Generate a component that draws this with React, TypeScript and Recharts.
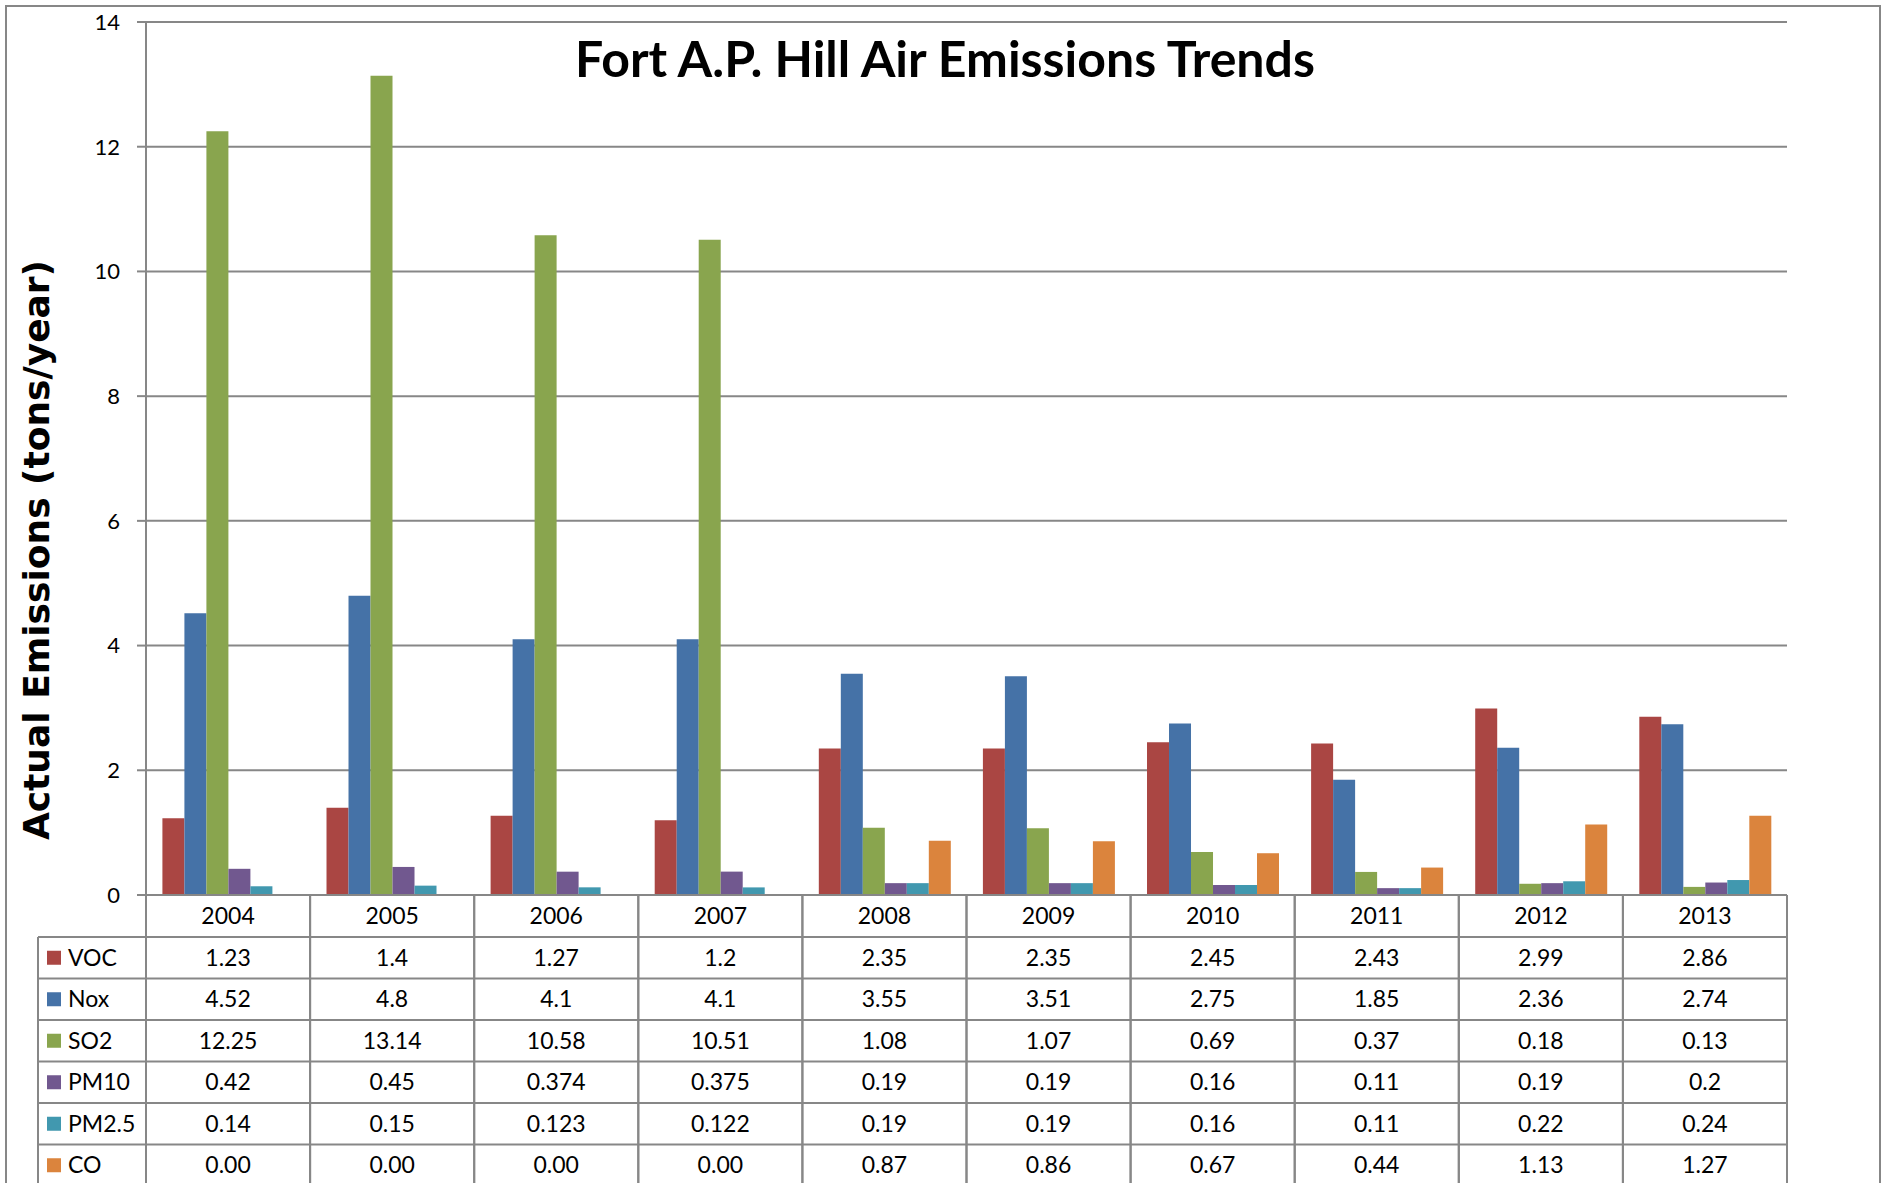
import { BarChart, Bar, XAxis, YAxis, CartesianGrid } from 'recharts';

const years = ['2004', '2005', '2006', '2007', '2008', '2009', '2010', '2011', '2012', '2013'];
const voc = [1.23, 1.4, 1.27, 1.2, 2.35, 2.35, 2.45, 2.43, 2.99, 2.86];
const nox = [4.52, 4.8, 4.1, 4.1, 3.55, 3.51, 2.75, 1.85, 2.36, 2.74];
const so2 = [12.25, 13.14, 10.58, 10.51, 1.08, 1.07, 0.69, 0.37, 0.18, 0.13];
const pm10 = [0.42, 0.45, 0.374, 0.375, 0.19, 0.19, 0.16, 0.11, 0.19, 0.2];
const pm25 = [0.14, 0.15, 0.123, 0.122, 0.19, 0.19, 0.16, 0.11, 0.22, 0.24];
const co = [0, 0, 0, 0, 0.87, 0.86, 0.67, 0.44, 1.13, 1.27];
const yTicks = [0, 2, 4, 6, 8, 10, 12, 14];

const series = [
  { key: 'voc', name: 'VOC', values: voc },
  { key: 'nox', name: 'Nox', values: nox },
  { key: 'so2', name: 'SO2', values: so2 },
  { key: 'pm10', name: 'PM10', values: pm10 },
  { key: 'pm25', name: 'PM2.5', values: pm25 },
  { key: 'co', name: 'CO', values: co, fixed: true },
];

const colors: Record<string, string> = {
  voc: '#AA4643',
  nox: '#4572A7',
  so2: '#89A54E',
  pm10: '#71588F',
  pm25: '#4198AF',
  co: '#DB843D',
};

const data = years.map((year, i) => {
  const row: Record<string, string | number> = { year };
  series.forEach(s => { row[s.key] = s.values[i]; });
  return row;
});

// layout
const W = 1885;
const H = 1200;
const Y_AXIS_W = 146;
const RIGHT = 98;
const TOP = 22;
const X_AXIS_H = 305;
const PLOT_BOTTOM = H - X_AXIS_H;
const BAND = (W - Y_AXIS_W - RIGHT) / years.length;
const YEAR_ROW_H = 42;
const ROW_H = 41.5;
const LEGEND_LEFT = 38;
const LINE = '#878787';
const FONT = 'Lato, "Open Sans", sans-serif';

const rowTop = (r: number) => PLOT_BOTTOM + YEAR_ROW_H + r * ROW_H;

function TableColumn(props: any) {
  const { x, payload } = props;
  const i = years.indexOf(payload.value);
  const left = x - BAND / 2;
  const right = x + BAND / 2;
  return (
    <g>
      <line x1={left} x2={left} y1={PLOT_BOTTOM} y2={H} stroke={LINE} strokeWidth={2} />
      <line x1={right} x2={right} y1={PLOT_BOTTOM} y2={H} stroke={LINE} strokeWidth={2} />
      <text x={x} y={PLOT_BOTTOM + YEAR_ROW_H / 2 - 1} textAnchor="middle" dominantBaseline="central" fontSize={23} fontFamily={FONT} fill="#000">
        {payload.value}
      </text>
      {series.map((s, r) => (
        <g key={s.key}>
          <line x1={left} x2={right} y1={rowTop(r)} y2={rowTop(r)} stroke={LINE} strokeWidth={2} />
          <text x={x} y={rowTop(r) + ROW_H / 2 - 1} textAnchor="middle" dominantBaseline="central" fontSize={23} fontFamily={FONT} fill="#000">
            {s.fixed ? s.values[i].toFixed(2) : String(s.values[i])}
          </text>
        </g>
      ))}
      {i === 0 && (
        <g>
          <line x1={LEGEND_LEFT} x2={LEGEND_LEFT} y1={rowTop(0)} y2={H} stroke={LINE} strokeWidth={2} />
          {series.map((s, r) => (
            <g key={s.key}>
              <line x1={LEGEND_LEFT} x2={left} y1={rowTop(r)} y2={rowTop(r)} stroke={LINE} strokeWidth={2} />
              <rect x={LEGEND_LEFT + 9} y={rowTop(r) + ROW_H / 2 - 7} width={14} height={14} fill={colors[s.key]} />
              <text x={LEGEND_LEFT + 30} y={rowTop(r) + ROW_H / 2 - 1} dominantBaseline="central" fontSize={23} fontFamily={FONT} fill="#000">
                {s.name}
              </text>
            </g>
          ))}
        </g>
      )}
    </g>
  );
}

export default function App() {
  return (
    <div style={{ position: 'absolute', left: 0, top: 0, width: W, height: 1183, overflow: 'hidden', background: '#fff' }}>
      <div style={{ position: 'absolute', left: 5, top: 5, width: 1872, height: 1300, border: `2px solid ${LINE}` }} />
      <div style={{ position: 'absolute', left: 0, top: 0 }}>
        <BarChart width={W} height={H} data={data} margin={{ top: TOP, right: RIGHT, left: 0, bottom: 0 }} barCategoryGap="10%" barGap={0}>
          <CartesianGrid vertical={false} stroke={LINE} strokeWidth={2} />
          <XAxis
            dataKey="year"
            height={X_AXIS_H}
            interval={0}
            tickSize={0}
            tickMargin={0}
            tickLine={false}
            axisLine={{ stroke: LINE, strokeWidth: 2 }}
            tick={(p: any) => <TableColumn {...p} />}
          />
          <YAxis
            width={Y_AXIS_W}
            domain={[0, 14]}
            ticks={yTicks}
            interval={0}
            tickSize={9}
            tickMargin={17}
            axisLine={{ stroke: LINE, strokeWidth: 2 }}
            tickLine={{ stroke: LINE, strokeWidth: 2 }}
            tick={{ fontSize: 22, fill: '#000', fontFamily: FONT }}
          />
          {series.map(s => (
            <Bar key={s.key} dataKey={s.key} name={s.name} fill={colors[s.key]} isAnimationActive={false} />
          ))}
        </BarChart>
      </div>
      <svg width={W} height={1183} style={{ position: 'absolute', left: 0, top: 0, pointerEvents: 'none' }}>
        <text x={945} y={77} textAnchor="middle" fontSize={50} fontWeight="bold" fontFamily={FONT} fill="#000">
          Fort A.P. Hill Air Emissions Trends
        </text>
        <text x={49} y={550} transform="rotate(-90 49 550)" textAnchor="middle" fontSize={36} fontWeight="bold" fontFamily='"DejaVu Sans", sans-serif' fill="#000">
          Actual Emissions (tons/year)
        </text>
      </svg>
    </div>
  );
}
